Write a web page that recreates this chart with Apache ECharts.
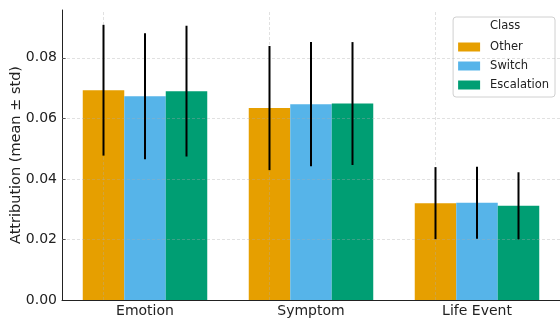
<!DOCTYPE html>
<html><head><meta charset="utf-8">
<script src="https://cdn.jsdelivr.net/npm/echarts@6/dist/echarts.min.js"></script>
<style>html,body{margin:0;padding:0;background:#fff}#c{width:560px;height:320px}</style>
</head><body><div id="c"></div>
<script>
const categories = ['Emotion', 'Symptom', 'Life Event'];
const classes = ['Other', 'Switch', 'Escalation'];
const colors = ['#E69F00', '#56B4E9', '#009E73'];
const otherMean = [0.0693, 0.0634, 0.0320];
const otherStd = [0.0216, 0.0205, 0.0119];
const switchMean = [0.0673, 0.0647, 0.0321];
const switchStd = [0.0208, 0.0205, 0.0119];
const escalationMean = [0.0690, 0.0649, 0.0311];
const escalationStd = [0.0216, 0.0203, 0.0111];
const yTicks = [0.00, 0.02, 0.04, 0.06, 0.08];

const means = [otherMean, switchMean, escalationMean];
const stds = [otherStd, switchStd, escalationStd];
const gridColor = 'rgba(170,170,170,0.45)';
const FONT = 'DejaVu Sans';

const series = [];
classes.forEach((name, i) => {
  const s = {
    name, type: 'bar', data: means[i], barGap: '0%', barCategoryGap: '25%',
    itemStyle: { color: colors[i] }, z: 2
  };
  if (i === 0) {
    s.markLine = {
      silent: true, symbol: 'none', z: 5, animation: false,
      label: { show: false },
      lineStyle: { color: gridColor, type: [3, 2], width: 0.8 },
      data: categories.map(c => ({ xAxis: c })).concat(yTicks.slice(1).map(v => ({ yAxis: v })))
    };
  }
  series.push(s);
});
classes.forEach((name, i) => {
  series.push({
    type: 'custom', z: 10, silent: true,
    data: categories.map((c, k) => [k, means[i][k], stds[i][k]]),
    renderItem: (params, api) => {
      const k = api.value(0), m = api.value(1), sd = api.value(2);
      const band = api.size([1, 0])[0];
      const off = (i - 1) * band * 0.25;
      const p1 = api.coord([k, m + sd]);
      const p2 = api.coord([k, m - sd]);
      return { type: 'line', shape: { x1: p1[0] + off, y1: p1[1], x2: p2[0] + off, y2: p2[1] },
        style: { stroke: '#000', lineWidth: 2 } };
    }
  });
});

const chart = echarts.init(document.getElementById('c'), null, { renderer: 'canvas' });
chart.setOption({
  animation: false,
  backgroundColor: '#fff',
  textStyle: { fontFamily: FONT },
  grid: { left: 62, right: 0, top: 10, bottom: 20, containLabel: false, outerBoundsMode: 'none' },
  legend: {
    data: classes, orient: 'vertical', right: 5, top: 17,
    padding: [24, 6, 6, 5], itemGap: 7, itemWidth: 22, itemHeight: 9,
    borderColor: '#d0d0d0', borderWidth: 1, borderRadius: 3, backgroundColor: 'rgba(255,255,255,0.85)',
    icon: 'rect', textStyle: { fontSize: 11.5, color: '#222', fontFamily: FONT, padding: [0, 0, 0, 5] }
  },
  graphic: [{ type: 'text', left: 490, top: 20, z: 100,
    style: { text: 'Class', fontSize: 11.5, fill: '#222', fontFamily: FONT } }],
  xAxis: {
    type: 'category', data: categories,
    axisLine: { lineStyle: { color: '#222', width: 1 } },
    axisTick: { show: true, inside: true, length: 3.5, alignWithLabel: true, lineStyle: { color: '#222' } },
    axisLabel: { fontSize: 14, color: '#222', margin: 4, fontFamily: FONT },
    splitLine: { show: false }
  },
  yAxis: {
    type: 'value', min: 0, max: 0.0958, interval: 0.02,
    name: 'Attribution (mean ± std)', nameLocation: 'middle', nameGap: 38, nameMoveOverlap: false,
    nameTextStyle: { fontSize: 14.5, color: '#222', fontFamily: FONT },
    axisLine: { show: true, lineStyle: { color: '#222', width: 1 } },
    axisTick: { show: true, inside: true, length: 3.5, lineStyle: { color: '#222' } },
    axisLabel: { fontSize: 14, color: '#222', margin: 5, fontFamily: FONT,
      formatter: v => v.toFixed(2), showMaxLabel: false },
    splitLine: { show: false }
  },
  series
});
</script></body></html>
